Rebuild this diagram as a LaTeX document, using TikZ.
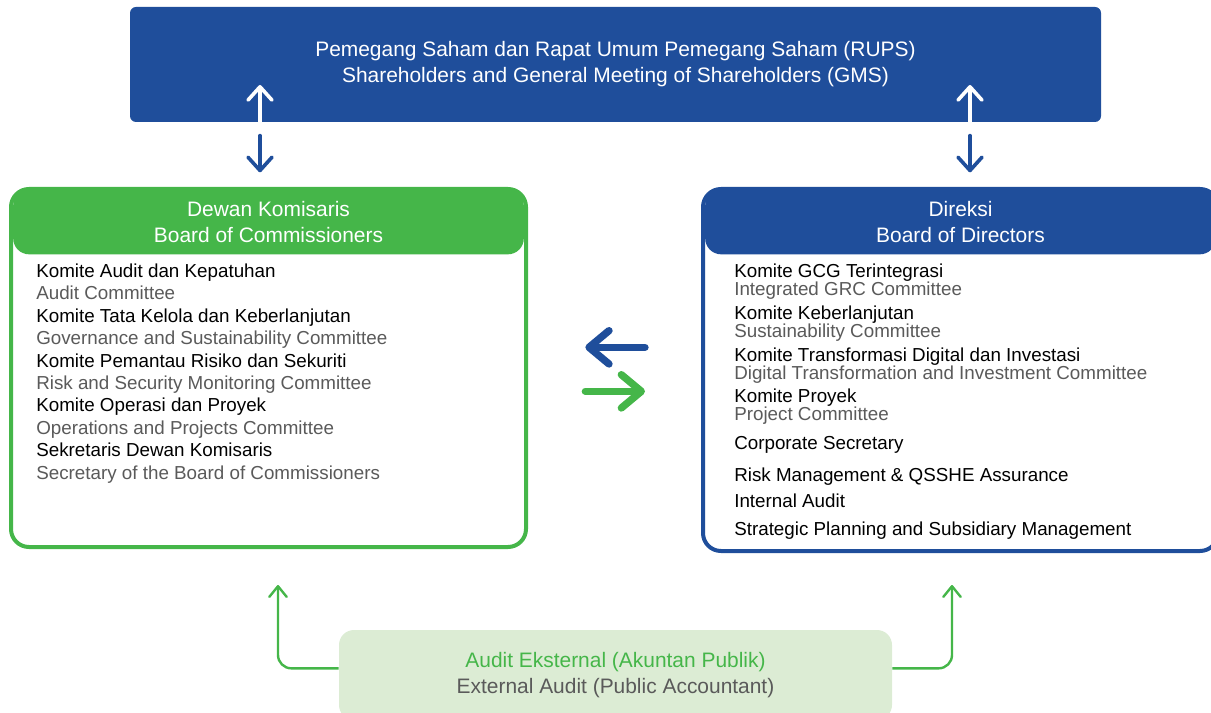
\documentclass[tikz,border=0pt]{standalone}
\usepackage{fontspec}
\setmainfont{Liberation Sans}
\usetikzlibrary{arrows.meta,positioning,calc}
\definecolor{CorpBlue}{HTML}{1F4E9B}
\definecolor{CorpGreen}{HTML}{45B649}
\definecolor{CorpGreenLight}{HTML}{DCECD4}
\definecolor{TextGrey}{HTML}{5A5A5A}
\tikzset{
  rupsbox/.style={fill=CorpBlue,rounded corners=4.5pt,minimum width=728.25pt,minimum height=86.25pt,align=center,text=white,font=\fontsize{15.7pt}{19.5pt}\selectfont},
  organbox/.style={draw=#1,line width=3pt,fill=white,rounded corners=13.5pt,minimum width=386.25pt,inner sep=0pt},
  organhead/.style={fill=#1,rounded corners=12pt,minimum width=383pt,minimum height=48.5pt,align=center,text=white,font=\fontsize{15.7pt}{19.5pt}\selectfont},
  itemline/.style={anchor=base west,inner sep=0pt,font=\fontsize{14.1pt}{16pt}\selectfont},
  auditbox/.style={fill=CorpGreenLight,rounded corners=11.25pt,minimum width=414.75pt,minimum height=67.5pt,align=center,font=\fontsize{15.7pt}{19.5pt}\selectfont},
  vertarrow/.style={-{Straight Barb[round,length=10pt,width=18pt]},line width=2.7pt,line cap=round},
  swaparrow/.style={-{Straight Barb[round,length=15pt,width=25pt]},line width=5.5pt,line cap=round,draw=#1},
  auditline/.style={-{Straight Barb[round,length=8pt,width=13pt]},line width=1.8pt,draw=CorpGreen,rounded corners=10pt}
}
\begin{document}
\begin{tikzpicture}[x=0.75pt,y=-0.75pt]
\useasboundingbox (0,0) rectangle (1211,713);

% RUPS / GMS
\node[rupsbox] (rups) at (615.5,64.5) {Pemegang Saham dan Rapat Umum Pemegang Saham (RUPS)\\Shareholders and General Meeting of Shareholders (GMS)};

% Dewan Komisaris
\node[organbox=CorpGreen,minimum height=268.5pt] (dekom) at (268.5,368) {};
\node[organhead=CorpGreen] (dekomhead) at (268.5,222) {Dewan Komisaris\\Board of Commissioners};
\foreach \i/\txt/\col in {0/Komite Audit dan Kepatuhan/black,
    1/Audit Committee/TextGrey,
    2/Komite Tata Kelola dan Keberlanjutan/black,
    3/Governance and Sustainability Committee/TextGrey,
    4/Komite Pemantau Risiko dan Sekuriti/black,
    5/Risk and Security Monitoring Committee/TextGrey,
    6/Komite Operasi dan Proyek/black,
    7/Operations and Projects Committee/TextGrey,
    8/Sekretaris Dewan Komisaris/black,
    9/Secretary of the Board of Commissioners/TextGrey}
  \node[itemline,text=\col] (dekomitem\i) at (36,277.5+22.4*\i) {\txt};

% Direksi
\node[organbox=CorpBlue,minimum height=271.5pt] (direksi) at (960.5,370) {};
\node[organhead=CorpBlue] (direksihead) at (960.5,222) {Direksi\\Board of Directors};
\foreach \i/\y/\txt/\col in {0/271/Komite GCG Terintegrasi/black,
    1/289/Integrated GRC Committee/TextGrey,
    2/313/Komite Keberlanjutan/black,
    3/331/Sustainability Committee/TextGrey,
    4/355/Komite Transformasi Digital dan Investasi/black,
    5/373/Digital Transformation and Investment Committee/TextGrey,
    6/396/Komite Proyek/black,
    7/414/Project Committee/TextGrey,
    8/443/Corporate Secretary/black,
    9/475/Risk Management \& QSSHE Assurance/black,
    10/501/Internal Audit/black,
    11/529/Strategic Planning and Subsidiary Management/black}
  \node[itemline,text=\col] (direksiitem\i) at (734,\y+6.5) {\txt};

% audit eksternal
\node[auditbox] (auditext) at (615.5,675) {\textcolor{CorpGreen}{Audit Eksternal (Akuntan Publik)}\\\textcolor{TextGrey}{External Audit (Public Accountant)}};

% RUPS <-> organs
\coordinate (rupsinL) at (260,85);
\coordinate (rupsinR) at (970,85);
\draw[vertarrow,white] ([yshift=-3pt]rups.south -| rupsinL) -- (rupsinL);
\draw[vertarrow,white] ([yshift=-3pt]rups.south -| rupsinR) -- (rupsinR);
\draw[vertarrow,CorpBlue] ([yshift=-10pt]rups.south -| rupsinL) -- ([yshift=11pt]dekom.north -| rupsinL);
\draw[vertarrow,CorpBlue] ([yshift=-10pt]rups.south -| rupsinR) -- ([yshift=11pt]direksi.north -| rupsinR);

% Dekom <-> Direksi
\draw[swaparrow=CorpBlue] ([xshift=-42pt,yshift=17pt]direksi.west) -- ([xshift=43pt,yshift=15.5pt]dekom.east);
\draw[swaparrow=CorpGreen] ([xshift=43pt,yshift=-17.5pt]dekom.east) -- ([xshift=-42pt,yshift=-16pt]direksi.west);

% audit eksternal -> organs
\coordinate (dekomaudit) at (278,585);
\coordinate (direksiaudit) at (952,585);
\draw[auditline] ([yshift=5pt]auditext.west) -| (dekomaudit);
\draw[auditline] ([yshift=5pt]auditext.east) -| (direksiaudit);
\end{tikzpicture}
\end{document}
